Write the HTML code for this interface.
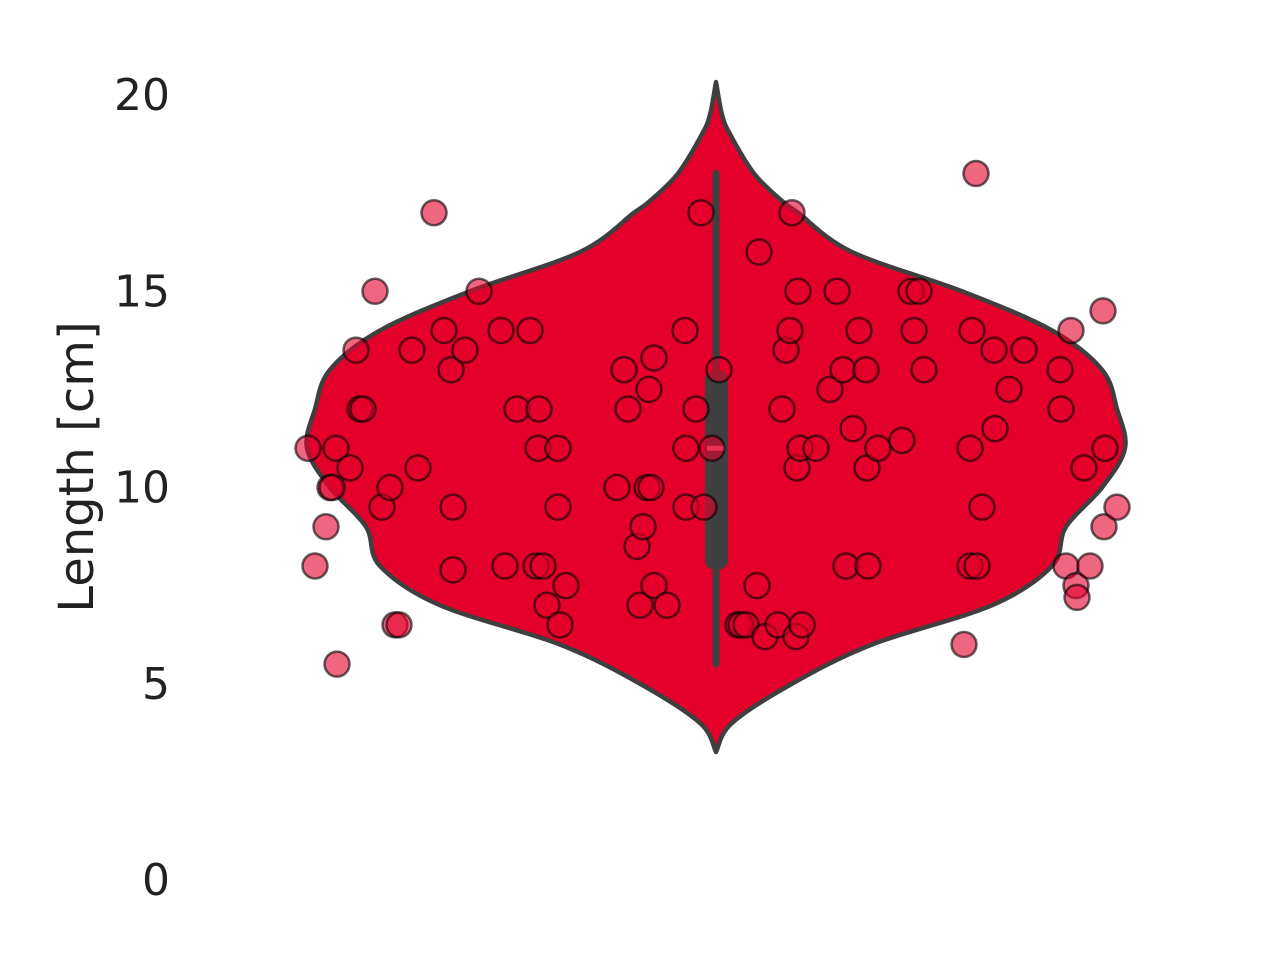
<!DOCTYPE html>
<html><head><meta charset="utf-8"><style>
html,body{margin:0;padding:0;background:#fff;}
svg{display:block;font-family:"DejaVu Sans","Liberation Sans",sans-serif;}
</style></head><body>
<svg id="chart" width="1280" height="960" viewBox="0 0 1280 960" xmlns="http://www.w3.org/2000/svg">
<g id="yticks"></g>
<text transform="translate(93,467) rotate(-90)" text-anchor="middle" font-size="48" fill="#222">Length [cm]</text>
<g id="violin"></g>
<g id="points"></g>
</svg>
<script>
const yTicks=[0,5,10,15,20];
const densVals=[20.33,19.5,19,18,17.3,17,16,15,14,13,12,11,10,9,8,7,6,5,4,3.26];
const densHalf=[0,6,14,38,66,82,136,246,336,386,401,409,386,350,336,276,156,76,16,0];
const boxQ=[7.9,11,13];
const whisk=[5.5,18];
const ptVals=[11,11,10,10,10.5,9,8,5.5,13.5,12,12,15,9.5,10,6.5,6.5,13.5,10.5,17,14,13,9.5,7.9,13.5,15,14,8,12,14,8,11,12,8,7,11,9.5,6.5,7.5,10,13,12,8.5,7,9,10,12.5,10,7.5,13.3,7,14,11,9.5,12,17,9.5,11,13,6.5,6.5,6.5,7.5,16,6.2,6.5,12,13.5,14,17,6.2,10.5,15,11,6.5,11,12.5,15,13,8,11.5,14,13,10.5,8,11,11.2,15,14,15,13,6,11,8,14,18,8,9.5,13.5,11.5,12.5,13.5,13,12,8,14,7.5,7.2,10.5,8,14.5,9,11,9.5];
const ptJit=[-408,-380,-386,-384,-366,-390,-401,-379,-360,-356,-353,-341,-334,-326,-321,-317,-304,-298,-282,-272,-265,-263,-263,-251,-237,-215,-211,-199,-186,-180,-178,-177,-173,-169,-158,-158,-156,-150,-99,-92,-88,-79,-76,-73,-69,-67,-65,-62,-62,-49,-31,-30,-30,-20,-15,-12,-4,3,22,25,30,41,43,49,62,66,70,74,76,80,81,82,84,86,100,114,121,127,130,137,143,150,151,152,162,186,195,198,203,208,248,254,254,256,260,261,266,278,279,293,308,344,345,350,355,360,361,368,374,387,388,389,401];
const X0=716, sc=1;
function yS(v){return 880-v*39.25;}
function xS(j){return X0+j*sc;}
const NS="http://www.w3.org/2000/svg";
function mk(t,a,p){const e=document.createElementNS(NS,t);for(const k in a)e.setAttribute(k,a[k]);p.appendChild(e);return e;}
const gy=document.getElementById('yticks');
yTicks.forEach(v=>{const t=mk('text',{x:170,y:yS(v)+15,'text-anchor':'end','font-size':'44',fill:'#222'},gy);t.textContent=v;

});
const gv=document.getElementById('violin');
function smooth(pts){let d='M'+pts[0][0]+','+pts[0][1];for(let i=0;i<pts.length-1;i++){const p0=pts[Math.max(0,i-1)],p1=pts[i],p2=pts[i+1],p3=pts[Math.min(pts.length-1,i+2)];
d+=' C'+(p1[0]+(p2[0]-p0[0])/6)+','+(p1[1]+(p2[1]-p0[1])/6)+' '+(p2[0]-(p3[0]-p1[0])/6)+','+(p2[1]-(p3[1]-p1[1])/6)+' '+p2[0]+','+p2[1];}return d;}
const right=densVals.map((v,i)=>[xS(densHalf[i]),yS(v)]);
const left=densVals.map((v,i)=>[xS(-densHalf[i]),yS(v)]).reverse();
const d=smooth(right)+' '+smooth(left).replace('M','L')+' Z';
const vp=mk('path',{d:d,fill:'#e4002b',stroke:'#3f3f3f','stroke-width':4.5,'stroke-linejoin':'round'},gv);


const wl=mk('line',{x1:X0,x2:X0,y1:yS(whisk[1]),y2:yS(whisk[0]),stroke:'#3f3f3f','stroke-width':7,'stroke-linecap':'round'},gv);


const bx=mk('rect',{x:X0-11,width:23,y:yS(boxQ[2]),height:yS(boxQ[0])-yS(boxQ[2]),rx:10,fill:'#3f3f3f'},gv);


const md=mk('line',{x1:X0-9,x2:X0+9,y1:yS(boxQ[1]),y2:yS(boxQ[1]),stroke:'#f07a8f','stroke-width':5},gv);


const gp=document.getElementById('points');
ptVals.forEach((v,i)=>{const c=mk('circle',{cx:xS(ptJit[i]),cy:yS(v),r:12.5,fill:'rgba(228,0,43,0.6)',stroke:'rgba(0,0,0,0.6)','stroke-width':2.5},gp);

});
</script>
</body></html>
